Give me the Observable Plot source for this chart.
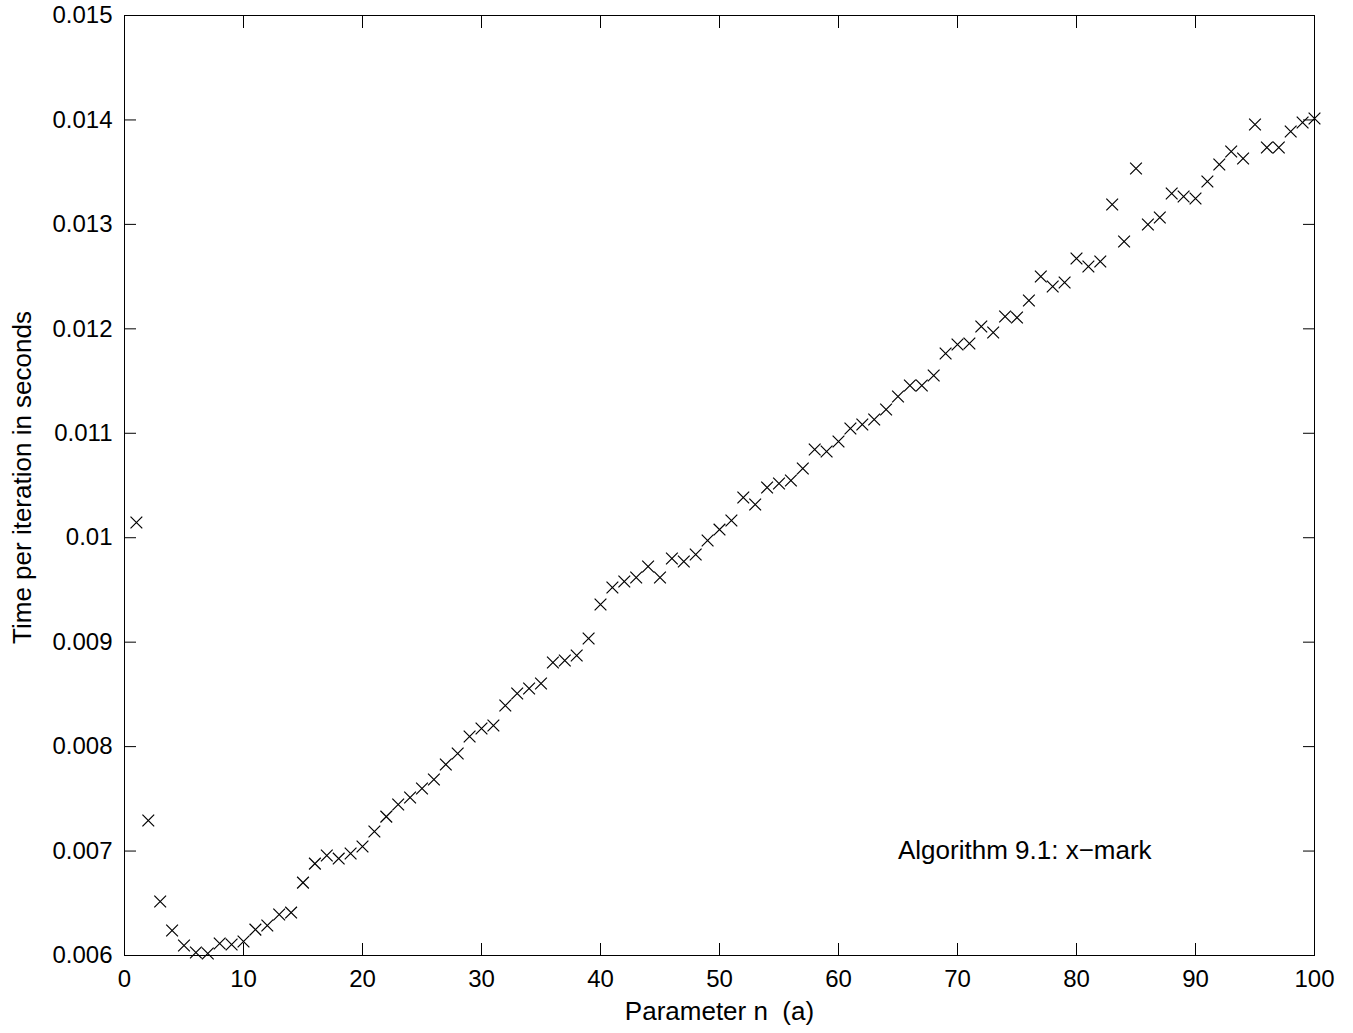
<!DOCTYPE html>
<html><head><meta charset="utf-8">
<script src="https://cdn.jsdelivr.net/npm/d3@7"></script>
<script src="https://cdn.jsdelivr.net/npm/@observablehq/plot@0.6"></script>
<style>html,body{margin:0;padding:0;background:#fff}svg{display:block}</style>
</head><body><div id="chart"></div>
<script>
const n = Array.from({length: 100}, (_, i) => i + 1);
const timePerIteration = [
  0.010146, 0.007292, 0.006517, 0.006239, 0.006096, 0.006029, 0.006019, 0.006115, 0.006105, 0.006134,
  0.006248, 0.006287, 0.006392, 0.006411, 0.006698, 0.006880, 0.006957, 0.006928, 0.006976, 0.007043,
  0.007187, 0.007330, 0.007446, 0.007513, 0.007599, 0.007685, 0.007829, 0.007934, 0.008097, 0.008173,
  0.008202, 0.008393, 0.008508, 0.008556, 0.008604, 0.008805, 0.008824, 0.008872, 0.009035, 0.009360,
  0.009523, 0.009581, 0.009619, 0.009724, 0.009619, 0.009801, 0.009772, 0.009839, 0.009973, 0.010078,
  0.010165, 0.010385, 0.010318, 0.010481, 0.010519, 0.010548, 0.010663, 0.010845, 0.010825, 0.010921,
  0.011046, 0.011084, 0.011132, 0.011228, 0.011352, 0.011457, 0.011457, 0.011553, 0.011764, 0.011850,
  0.011860, 0.012022, 0.011965, 0.012118, 0.012108, 0.012271, 0.012501, 0.012405, 0.012444, 0.012673,
  0.012597, 0.012645, 0.013190, 0.012836, 0.013535, 0.012999, 0.013066, 0.013296, 0.013267, 0.013248,
  0.013411, 0.013573, 0.013698, 0.013631, 0.013956, 0.013736, 0.013736, 0.013889, 0.013975, 0.014014
];
const xTicks = [0, 10, 20, 30, 40, 50, 60, 70, 80, 90, 100];
const xTickLabels = ["0", "10", "20", "30", "40", "50", "60", "70", "80", "90", "100"];
const yTicks = [0.006, 0.007, 0.008, 0.009, 0.010, 0.011, 0.012, 0.013, 0.014, 0.015];
const yTickLabels = ["0.006", "0.007", "0.008", "0.009", "0.01", "0.011", "0.012", "0.013", "0.014", "0.015"];
const xLabel = ["Parameter n  (a)"];
const yLabel = ["Time per iteration in seconds"];
const annotationText = ["Algorithm 9.1: x\u2212mark"];
const annotationX = [65];
const annotationY = [0.007];

const data = n.map((v, i) => ({n: v, t: timePerIteration[i]}));
const fmtX = d => xTickLabels[xTicks.indexOf(d)];
const fmtY = d => yTickLabels[yTicks.findIndex(v => Math.abs(v - d) < 1e-9)];
const font = "'Liberation Sans', Arial, Helvetica, sans-serif";

const chart = Plot.plot({
  width: 1353,
  height: 1033,
  marginTop: 15,
  marginLeft: 124,
  marginRight: 39,
  marginBottom: 78,
  style: {fontFamily: font, fontSize: "24px", color: "#000", background: "#fff"},
  x: {domain: [0, 100], axis: null},
  y: {domain: [0.006, 0.015], axis: null},
  marks: [
    Plot.axisX(xTicks, {anchor: "bottom", tickSize: -12, text: null, label: null}),
    Plot.axisX(xTicks, {anchor: "top", tickSize: -12, text: null, label: null}),
    Plot.axisY(yTicks, {anchor: "left", tickSize: -12, text: null, label: null}),
    Plot.axisY(yTicks, {anchor: "right", tickSize: -12, text: null, label: null}),
    Plot.axisX(xTicks, {anchor: "bottom", tickSize: 0, tickPadding: 14, tickFormat: fmtX, label: null, fontSize: 24}),
    Plot.axisY(yTicks, {anchor: "left", tickSize: 0, tickPadding: 12, tickFormat: fmtY, label: null, fontSize: 24}),
    Plot.frame({stroke: "#000", strokeWidth: 1}),
    Plot.text(xLabel, {frameAnchor: "bottom", textAnchor: "middle", lineAnchor: "middle", dy: 56, text: d => d, fontSize: 26, fill: "#000"}),
    Plot.text(yLabel, {frameAnchor: "left", textAnchor: "middle", lineAnchor: "middle", rotate: -90, dx: -102, dy: -8, text: d => d, fontSize: 26, fill: "#000"}),
    Plot.text(annotationText, {x: annotationX, y: annotationY, text: d => d, textAnchor: "start", lineAnchor: "middle", fontSize: 26, fill: "#000"}),
    Plot.dot(data, {x: "n", y: "t", symbol: "times", r: 5.4, stroke: "#000", strokeWidth: 1.2})
  ]
});
document.getElementById("chart").appendChild(chart);
</script>
</body></html>
